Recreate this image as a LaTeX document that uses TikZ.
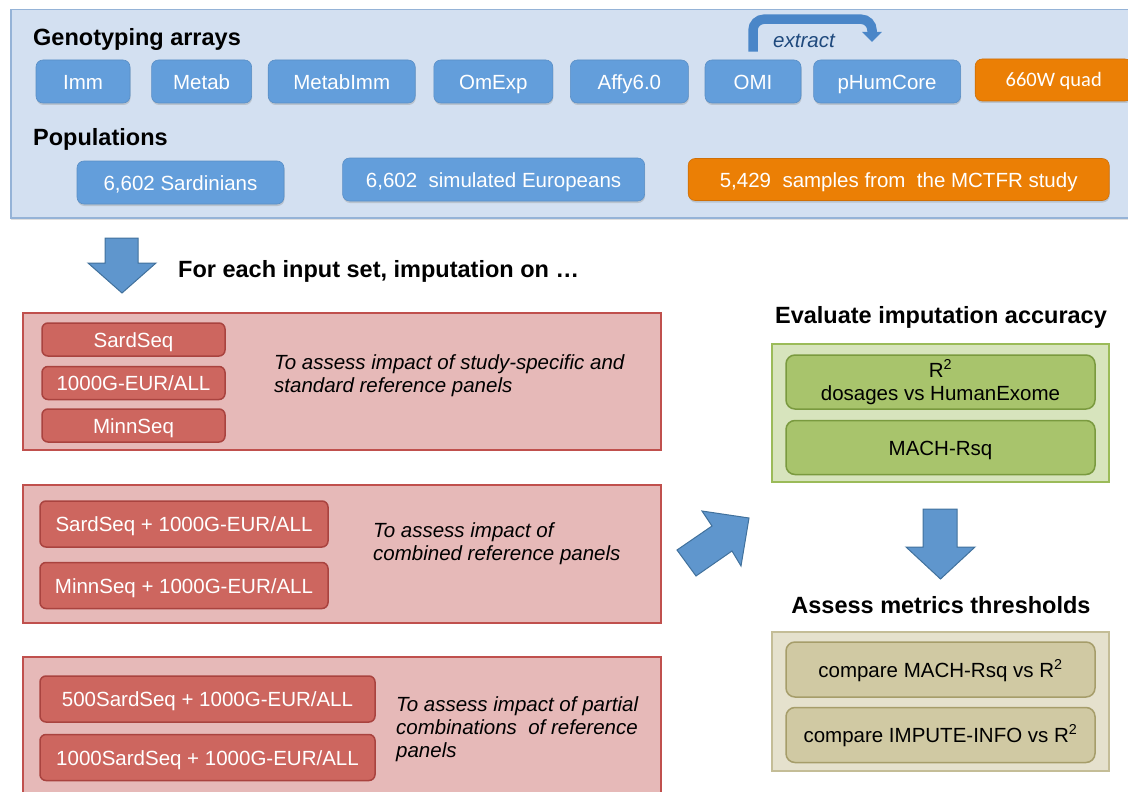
\documentclass[tikz,border=0pt]{standalone}
\usepackage{fontspec}
\setmainfont{Liberation Sans}
\newfontfamily\calibrifont{Carlito}
\usepackage{xcolor}
\usepackage{tikz}
\usetikzlibrary{positioning, arrows.meta, shadows}

\definecolor{toppanelfill}{HTML}{D3E0F1}
\definecolor{toppanelline}{HTML}{95B3D7}
\definecolor{boxblue}{HTML}{639EDB}
\definecolor{boxblueline}{HTML}{5A8FC6}
\definecolor{boxorange}{HTML}{EB7F05}
\definecolor{boxorangeline}{HTML}{CF6F06}
\definecolor{redpanelfill}{HTML}{E6B9B8}
\definecolor{redpanelline}{HTML}{C0504D}
\definecolor{redbox}{HTML}{CD665F}
\definecolor{redboxline}{HTML}{A9433F}
\definecolor{greenpanelfill}{HTML}{D7E4BD}
\definecolor{greenpanelline}{HTML}{9BBB59}
\definecolor{greenbox}{HTML}{A8C46C}
\definecolor{greenboxline}{HTML}{7A9A3F}
\definecolor{tanpanelfill}{HTML}{E5E1CD}
\definecolor{tanpanelline}{HTML}{C4BD97}
\definecolor{tanbox}{HTML}{D0C9A3}
\definecolor{tanboxline}{HTML}{A69D6A}
\definecolor{arrowblue}{HTML}{5F96CD}
\definecolor{arrowline}{HTML}{41719C}
\definecolor{extractblue}{HTML}{4A86C8}
\definecolor{extracttext}{HTML}{1F497D}

\newcommand{\boxfont}{\fontsize{20.5}{23}\selectfont}
\newcommand{\headfont}{\fontsize{23.5}{27}\selectfont\bfseries}

\begin{document}
\begin{tikzpicture}[x=1pt, y=-1pt, node distance=16pt]
    % Define the style for the nodes
    \tikzstyle{toppanel} = [rectangle, draw=toppanelline, fill=toppanelfill, line width=1.5pt, inner sep=0pt,
        drop shadow={shadow xshift=0pt, shadow yshift=-2pt, opacity=0.25}]
    \tikzstyle{oneline} = [text height=15pt, text depth=0pt]
    \tikzstyle{array} = [rectangle, rounded corners=7pt, draw=boxblueline, line width=0.6pt, fill=boxblue, text=white,
        minimum height=43pt, inner sep=0pt, font=\boxfont, oneline,
        drop shadow={shadow xshift=0.5pt, shadow yshift=-2pt, opacity=0.3}]
    \tikzstyle{orangebox} = [array, draw=boxorangeline, fill=boxorange]
    \tikzstyle{title} = [inner sep=0pt, font=\headfont]
    \tikzstyle{redpanel} = [rectangle, draw=redpanelline, fill=redpanelfill, line width=2pt, inner sep=0pt]
    \tikzstyle{redset} = [rectangle, rounded corners=6pt, draw=redboxline, line width=1.5pt, fill=redbox, text=white,
        inner sep=0pt, font=\boxfont, oneline]
    \tikzstyle{note} = [inner sep=0pt, align=left, font=\boxfont\itshape]
    \tikzstyle{greenpanel} = [rectangle, draw=greenpanelline, fill=greenpanelfill, line width=2pt, inner sep=0pt]
    \tikzstyle{metric} = [rectangle, rounded corners=9pt, draw=greenboxline, line width=1.5pt, fill=greenbox,
        inner sep=0pt, align=center, font=\boxfont]
    \tikzstyle{tanpanel} = [rectangle, draw=tanpanelline, fill=tanpanelfill, line width=2pt, inner sep=0pt]
    \tikzstyle{compare} = [metric, draw=tanboxline, fill=tanbox, oneline]
    \tikzstyle{bigarrow} = [fill=arrowblue, draw=arrowline, line width=1pt, line join=miter]
    \tikzstyle{extract} = [draw=extractblue, line width=9.5pt, rounded corners=11pt,
        -{Triangle[width=19pt, length=10pt]}]

    \useasboundingbox (0,0) rectangle (1128,792);

    % Genotyping arrays and populations
    \node [toppanel, anchor=north west, minimum width=1130pt, minimum height=208pt] (inputs) at (10,9) {};
    \node [title, anchor=base west] (arraytitle) at (33,46) {Genotyping arrays};
    \node [array, minimum width=94pt] (imm) at (83,81.5) {Imm};
    \node [array, minimum width=100pt, right=21pt of imm] (metab) {Metab};
    \node [array, minimum width=147pt, right=16pt of metab] (metabimm) {MetabImm};
    \node [array, minimum width=119pt, right=18pt of metabimm] (omexp) {OmExp};
    \node [array, minimum width=118pt, right=17pt of omexp] (affy) {Affy6.0};
    \node [array, minimum width=96pt, right=16pt of affy] (omi) {OMI};
    \node [array, minimum width=147pt, right=12pt of omi] (phumcore) {pHumCore};
    \node [orangebox, minimum width=157pt, minimum height=42pt, right=14pt of phumcore, yshift=1.5pt,
        font=\calibrifont\boxfont, text height=14pt] (quad) {660W quad};

    \node [title, anchor=base west] (poptitle) at (33,146) {Populations};
    \node [array, minimum width=207pt] (sardinians) at (180.5,182.5) {6,602 Sardinians};
    \node [array, minimum width=302pt, right=58pt of sardinians, yshift=3pt] (europeans) {6,602\ \ simulated Europeans};
    \node [orangebox, minimum width=421pt, minimum height=42pt, right=43pt of europeans] (mctfr) {5,429\ \ samples from\ \ the MCTFR study};

    % extract arrow from OMI
    \coordinate (extracttip) at (872,42);
    \draw [extract] ([yshift=8pt]omi.north) -- ++(0,-32.5) -| (extracttip);
    \node [inner sep=0pt, anchor=base west, text=extracttext, font=\boxfont\itshape] (extractlabel) at (773,48) {extract};

    % Imputation on each reference set
    \draw [bigarrow] (105,238) -- (138,238) -- (138,263) -- (156,263) -- (122,293) -- (88,263) -- (105,263) -- cycle;
    \node [title, anchor=base west] (imputetitle) at (178,277) {For each input set, imputation on \dots};

    \node [redpanel, minimum width=638pt, minimum height=137pt] (setone) at (342,381.5) {};
    \node [redset, minimum width=183pt, minimum height=33pt] (sardseq) at (133.5,339.5) {SardSeq};
    \node [redset, minimum width=183pt, minimum height=33pt, below=9pt of sardseq] (kgeur) {1000G-EUR/ALL};
    \node [redset, minimum width=183pt, minimum height=33pt, below=8pt of kgeur] (minnseq) {MinnSeq};
    \node [note, anchor=west] (noteone) at (274,375.5) {To assess impact of study-specific and\\standard reference panels};

    \node [redpanel, minimum width=638pt, minimum height=138pt] (settwo) at (342,554) {};
    \node [redset, minimum width=288pt, minimum height=46pt] (sardkg) at (184,524) {SardSeq + 1000G-EUR/ALL};
    \node [redset, minimum width=288pt, minimum height=46pt, below=14pt of sardkg] (minnkg) {MinnSeq + 1000G-EUR/ALL};
    \node [note, anchor=west] (notetwo) at (373,544) {To assess impact of\\combined reference panels};

    \node [redpanel, minimum width=638pt, minimum height=143pt] (setthree) at (342,728.5) {};
    \node [redset, minimum width=335pt, minimum height=46pt] (halfsard) at (207.5,699) {500SardSeq + 1000G-EUR/ALL};
    \node [redset, minimum width=335pt, minimum height=46pt, below=11pt of halfsard] (fullsard) {1000SardSeq + 1000G-EUR/ALL};
    \node [note, anchor=west] (notethree) at (396,729) {To assess impact of partial\\combinations\ \ of reference\\panels};

    % Evaluation of accuracy
    \draw [bigarrow] (677,550) -- (712,526) -- (702,511) -- (749,518) -- (741,566) -- (732,551) -- (696,576) -- cycle;
    \node [title, anchor=base] (evaltitle) at (941,323) {Evaluate imputation accuracy};
    \node [greenpanel, minimum width=337pt, minimum height=138pt] (evalpanel) at (940.5,413) {};
    \node [metric, minimum width=309pt, minimum height=54pt] (rsquare) at (940.5,382) {R\textsuperscript{2}\\dosages vs HumanExome};
    \node [metric, oneline, minimum width=309pt, minimum height=54pt, below=10pt of rsquare] (machrsq) {MACH-Rsq};

    % Thresholds
    \draw [bigarrow] (923,509) -- (957,509) -- (957,547) -- (975,547) -- (940.5,579) -- (906,547) -- (923,547) -- cycle;
    \node [title, anchor=base] (threshtitle) at (941,613) {Assess metrics thresholds};
    \node [tanpanel, minimum width=337pt, minimum height=139pt] (threshpanel) at (940.5,701.5) {};
    \node [compare, minimum width=309pt, minimum height=55pt] (machvs) at (940.5,669.5) {compare MACH-Rsq vs R\textsuperscript{2}};
    \node [compare, minimum width=309pt, minimum height=55pt, below=9pt of machvs] (imputevs) {compare IMPUTE-INFO vs R\textsuperscript{2}};

\end{tikzpicture}
\end{document}
